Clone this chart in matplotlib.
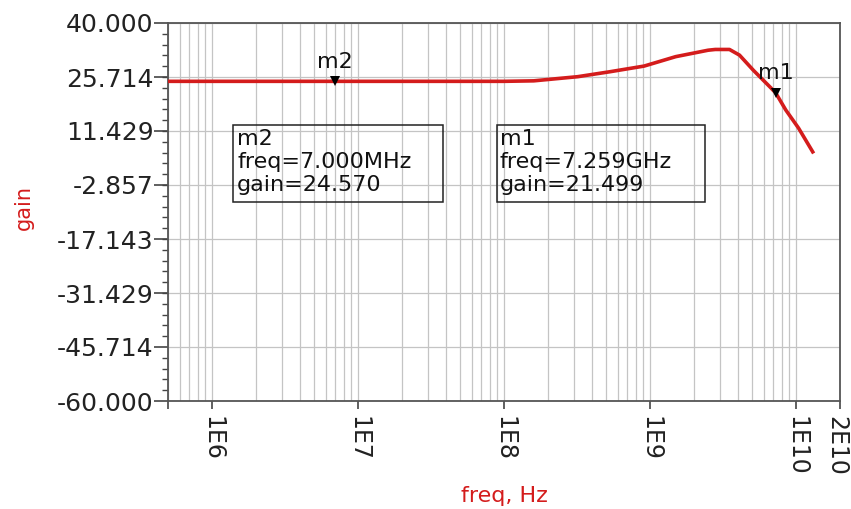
import matplotlib
matplotlib.use("Agg")
import matplotlib.pyplot as plt
import matplotlib.transforms as mtransforms
import numpy as np
from matplotlib.ticker import FixedLocator, AutoMinorLocator, NullFormatter
from matplotlib.patches import Rectangle

# ---- data ----
freq = [5e5, 1e6, 1e7, 1e8, 1.6e8, 3.2e8, 5.3e8, 9.1e8, 1.5e9, 2.5e9, 2.8e9,
        3.5e9, 4.1e9, 5.1e9, 6.7e9, 7.259e9, 8.5e9, 1.04e10, 1.32e10]
gain = [24.57, 24.57, 24.57, 24.57, 24.7, 25.8, 27.1, 28.6, 31.1, 32.8, 33.0,
        33.0, 31.5, 27.5, 22.9, 21.499, 17.0, 12.2, 5.5]

x_ticks = [1e6, 1e7, 1e8, 1e9, 1e10, 2e10]
x_tick_labels = ["1E6", "1E7", "1E8", "1E9", "1E10", "2E10"]
y_ticks = [40.0, 25.714, 11.429, -2.857, -17.143, -31.429, -45.714, -60.0]
y_tick_labels = ["40.000", "25.714", "11.429", "-2.857", "-17.143", "-31.429", "-45.714", "-60.000"]

markers = [
    {"name": "m2", "freq": 7.0e6, "gain": 24.570, "freq_txt": "7.000MHz"},
    {"name": "m1", "freq": 7.259e9, "gain": 21.499, "freq_txt": "7.259GHz"},
]

RED = "#d41c1c"
W, H = 851, 509

fig = plt.figure(figsize=(W / 100, H / 100), dpi=100)
L, R, T, B = 168, 840, 23, 401
ax = fig.add_axes([L / W, 1 - B / H, (R - L) / W, (B - T) / H])

ax.plot(freq, gain, color=RED, lw=2.6, solid_capstyle="butt", zorder=3)
ax.set_xscale("log")
ax.set_xlim(5e5, 2e10)
ax.set_ylim(-60, 40)

# x ticks
ax.xaxis.set_major_locator(FixedLocator([5e5] + x_ticks))
ax.set_xticklabels([""] + x_tick_labels, rotation=-90, fontsize=17,
                   family="DejaVu Sans", color="#222222")
minor_x = [m * 10.0 ** e for e in range(5, 11) for m in range(2, 10)]
minor_x = [v for v in minor_x if 5e5 < v < 2e10]
ax.xaxis.set_minor_locator(FixedLocator(minor_x))
ax.xaxis.set_minor_formatter(NullFormatter())
ax.tick_params(axis="x", which="major", length=6, width=1.2, color="#444444", pad=5,
               direction="out")
ax.tick_params(axis="x", which="minor", length=0)
# nudge the last label (2E10) left so it stays inside the figure
last = ax.get_xticklabels()[-1]
last.set_transform(last.get_transform() +
                   mtransforms.ScaledTranslation(-4 / 100, 0, fig.dpi_scale_trans))

# y ticks
ax.yaxis.set_major_locator(FixedLocator(y_ticks))
ax.set_yticklabels(y_tick_labels, fontsize=18, family="DejaVu Sans", color="#222222")
ax.yaxis.set_minor_locator(AutoMinorLocator(5))
ax.tick_params(axis="y", which="major", length=10, width=1.2, color="#444444", pad=0.5,
               direction="out")
ax.tick_params(axis="y", which="minor", length=4.5, width=1.0, color="#444444",
               direction="out")

# grid
ax.grid(True, axis="x", which="both", color="#c4c4c4", lw=0.9, zorder=0)
ax.grid(True, axis="y", which="major", color="#c4c4c4", lw=0.9, zorder=0)
ax.set_axisbelow(True)
for s in ax.spines.values():
    s.set_color("#555555")
    s.set_linewidth(1.3)

ax.set_xlabel("freq, Hz", color=RED, fontsize=16, family="DejaVu Sans")
ax.xaxis.set_label_coords(0.5, (B - 486) / (B - T))
ax.set_ylabel("gain", color=RED, fontsize=15, family="DejaVu Sans", va="center")
ax.yaxis.set_label_coords((24 - L) / (R - L), (B - 208) / (B - T))

# markers on the trace
for m in markers:
    ax.plot([m["freq"]], [m["gain"]], marker="v", color="black", ms=7,
            markeredgewidth=0, linestyle="none", zorder=4)
    ax.annotate(m["name"], (m["freq"], m["gain"]), xytext=(0, 7),
                textcoords="offset points", ha="center", va="bottom",
                fontsize=16, family="DejaVu Sans", color="#111111", zorder=5)

# marker readout boxes (pixel layout)
boxes = [(233, 125, 443, 202, 237), (497, 125, 705, 202, 500)]
m_order = [markers[0], markers[1]]
for (x0, y0, x1, y1, tx), m in zip(boxes, m_order):
    rect = Rectangle((x0 / W, 1 - y1 / H), (x1 - x0) / W, (y1 - y0) / H,
                     transform=fig.transFigure, fill=False, ec="#222222", lw=1.1,
                     zorder=6)
    fig.patches.append(rect)
    lines = [m["name"], "freq=" + m["freq_txt"], "gain=%.3f" % m["gain"]]
    for ln, yb in zip(lines, [145, 168, 191]):
        fig.text(tx / W, 1 - yb / H, ln, ha="left", va="baseline", fontsize=16,
                 family="DejaVu Sans", color="#111111")

fig.savefig("out.png", dpi=100, facecolor="white")
